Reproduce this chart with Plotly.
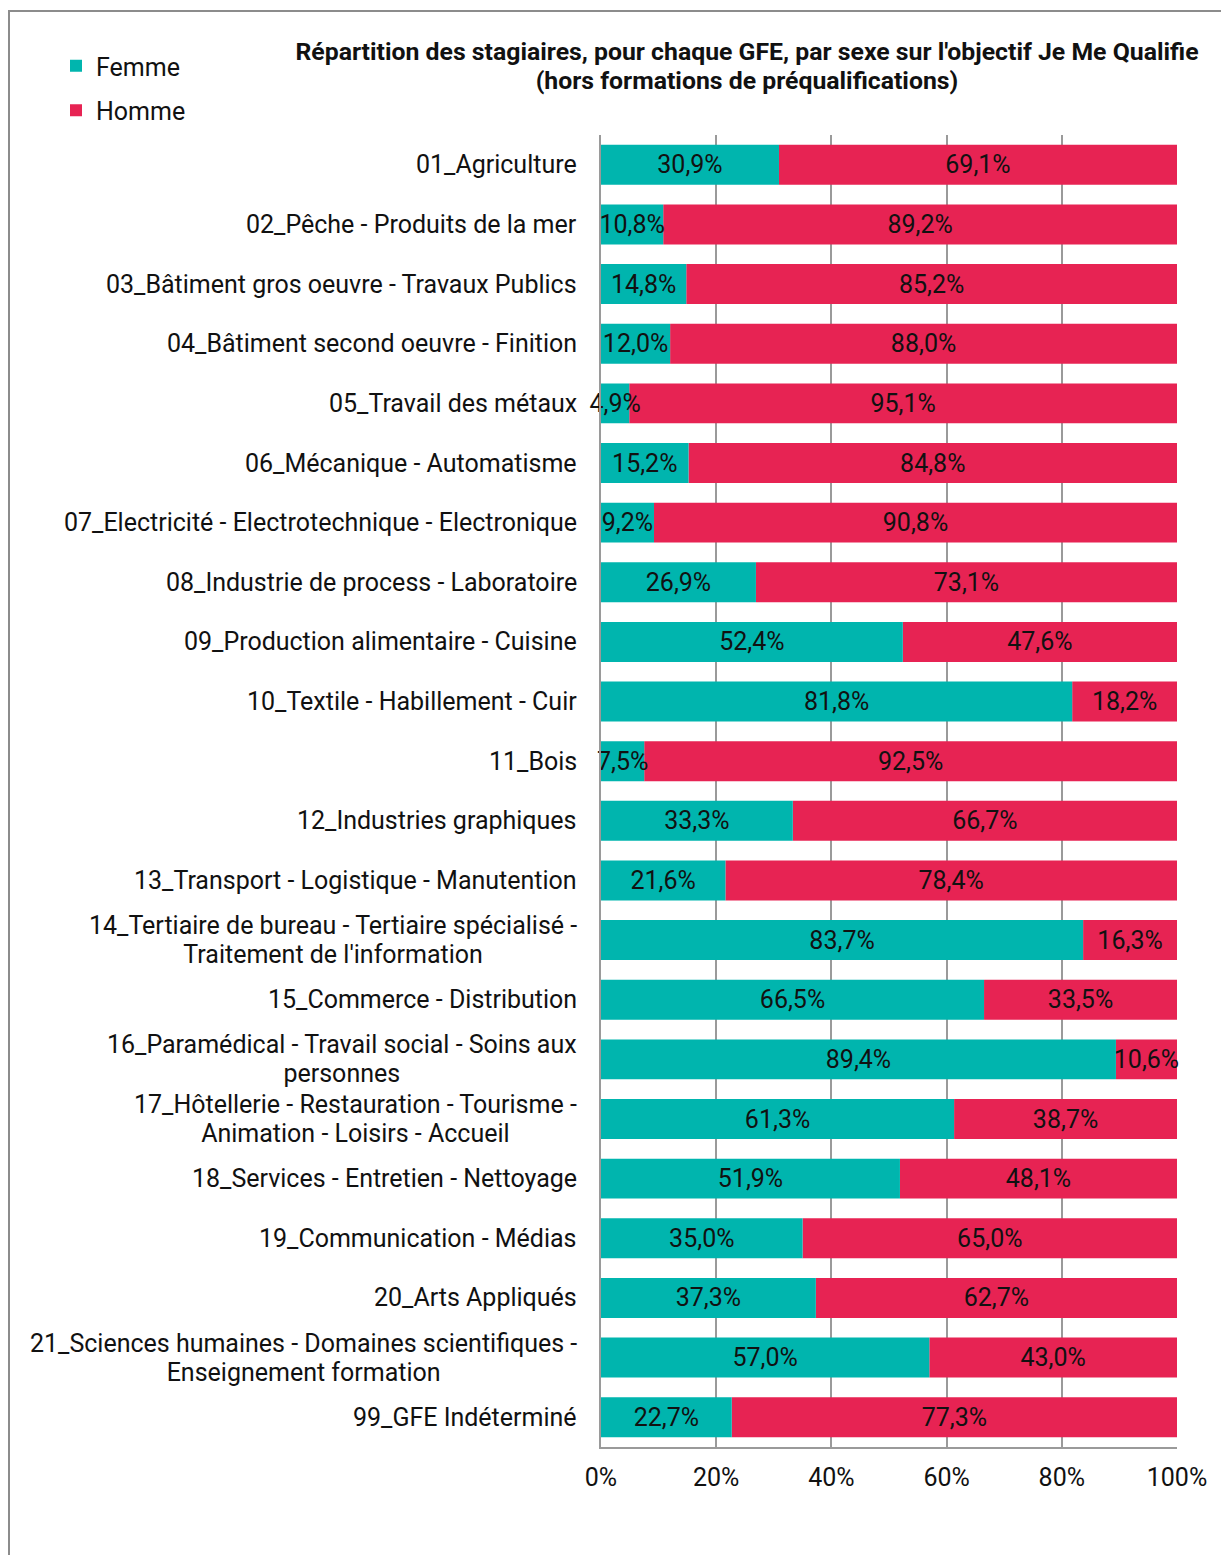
import plotly.graph_objects as go

categories = [
    "01_Agriculture",
    "02_Pêche - Produits de la mer",
    "03_Bâtiment gros oeuvre - Travaux Publics",
    "04_Bâtiment second oeuvre - Finition",
    "05_Travail des métaux",
    "06_Mécanique - Automatisme",
    "07_Electricité - Electrotechnique - Electronique",
    "08_Industrie de process - Laboratoire",
    "09_Production alimentaire - Cuisine",
    "10_Textile - Habillement - Cuir",
    "11_Bois",
    "12_Industries graphiques",
    "13_Transport - Logistique - Manutention",
    "14_Tertiaire de bureau - Tertiaire spécialisé - Traitement de l'information",
    "15_Commerce - Distribution",
    "16_Paramédical - Travail social - Soins aux personnes",
    "17_Hôtellerie - Restauration - Tourisme - Animation - Loisirs - Accueil",
    "18_Services - Entretien - Nettoyage",
    "19_Communication - Médias",
    "20_Arts Appliqués",
    "21_Sciences humaines - Domaines scientifiques - Enseignement formation",
    "99_GFE Indéterminé",
]
category_labels = [
    ["01_Agriculture"],
    ["02_Pêche - Produits de la mer"],
    ["03_Bâtiment gros oeuvre - Travaux Publics"],
    ["04_Bâtiment second oeuvre - Finition"],
    ["05_Travail des métaux"],
    ["06_Mécanique - Automatisme"],
    ["07_Electricité - Electrotechnique - Electronique"],
    ["08_Industrie de process - Laboratoire"],
    ["09_Production alimentaire - Cuisine"],
    ["10_Textile - Habillement - Cuir"],
    ["11_Bois"],
    ["12_Industries graphiques"],
    ["13_Transport - Logistique - Manutention"],
    ["14_Tertiaire de bureau - Tertiaire spécialisé -", "Traitement de l'information"],
    ["15_Commerce - Distribution"],
    ["16_Paramédical - Travail social - Soins aux", "personnes"],
    ["17_Hôtellerie - Restauration - Tourisme -", "Animation - Loisirs - Accueil"],
    ["18_Services - Entretien - Nettoyage"],
    ["19_Communication - Médias"],
    ["20_Arts Appliqués"],
    ["21_Sciences humaines - Domaines scientifiques -", "Enseignement formation"],
    ["99_GFE Indéterminé"],
]
title_lines = [
    "Répartition des stagiaires, pour chaque GFE, par sexe sur l'objectif Je Me Qualifie",
    "(hors formations de préqualifications)",
]
femme = [30.9, 10.8, 14.8, 12.0, 4.9, 15.2, 9.2, 26.9, 52.4, 81.8, 7.5,
         33.3, 21.6, 83.7, 66.5, 89.4, 61.3, 51.9, 35.0, 37.3, 57.0, 22.7]
homme = [69.1, 89.2, 85.2, 88.0, 95.1, 84.8, 90.8, 73.1, 47.6, 18.2, 92.5,
         66.7, 78.4, 16.3, 33.5, 10.6, 38.7, 48.1, 65.0, 62.7, 43.0, 77.3]
x_ticks = [0, 20, 40, 60, 80, 100]
x_tick_labels = ["0%", "20%", "40%", "60%", "80%", "100%"]

TEAL = "#00B5AE"
RED = "#E72353"
FONT = "Roboto"
FS = 25
LINE_FS = 29 / 1.3  # container font size giving ~29px line spacing


def multiline(lines, size, bold=False):
    parts = []
    for ln in lines:
        s = f'<span style="font-size:{size}px">{ln}</span>'
        if bold:
            s = f"<b>{s}</b>"
        parts.append(s)
    return "<br>".join(parts)


W, H = 1221, 1555
ML, MR, MT, MB = 601, 44, 135, 108

fig = go.Figure()
# Homme drawn first (stacked after Femme via base) so Femme labels sit on top
fig.add_trace(go.Bar(
    y=categories, x=homme, base=femme, name="Homme", orientation="h",
    marker=dict(color=RED, line=dict(width=0)),
    texttemplate="%{x:.1f}%", textposition="inside", textangle=0,
    insidetextanchor="middle", constraintext="none",
    insidetextfont=dict(family=FONT, size=FS, color="#111111"),
    legendgroup="h", legendrank=2, cliponaxis=False,
))
fig.add_trace(go.Bar(
    y=categories, x=femme, name="Femme", orientation="h",
    marker=dict(color=TEAL, line=dict(width=0)),
    texttemplate="%{x:.1f}%", textposition="inside", textangle=0,
    insidetextanchor="middle", constraintext="none",
    insidetextfont=dict(family=FONT, size=FS, color="#111111"),
    legendgroup="f", legendrank=1, cliponaxis=False,
))

for cat, lab in zip(categories, category_labels):
    fig.add_annotation(
        x=0, xref="paper", y=cat, yref="y", text=multiline(lab, FS),
        showarrow=False, xanchor="right", xshift=-22, align="center",
        font=dict(family=FONT, size=LINE_FS, color="#111111"),
    )

pw = W - ML - MR
ph = H - MT - MB
fig.add_shape(
    type="rect", xref="paper", yref="paper",
    x0=(9 - ML) / pw, x1=(W + 20 - ML) / pw,
    y0=-(H + 20 - (H - MB)) / ph, y1=1 + (MT - 11) / ph,
    line=dict(color="#8C8C8C", width=2), fillcolor="rgba(0,0,0,0)", layer="below",
)

fig.update_layout(
    width=W, height=H,
    margin=dict(l=ML, r=MR, t=MT, b=MB),
    paper_bgcolor="white", plot_bgcolor="white",
    barmode="overlay", bargap=0.33,
    separators=", ",
    uniformtext=dict(minsize=FS, mode="show"),
    font=dict(family=FONT, size=FS, color="#111111"),
    title=dict(
        text=multiline(title_lines, 24.8, bold=True),
        x=747 / W, xanchor="center", xref="container",
        y=1 - 60 / H, yanchor="top", yref="container",
        font=dict(family=FONT, size=LINE_FS, color="#111111"),
    ),
    legend=dict(
        x=56 / W, xref="container", xanchor="left",
        y=1 - 43 / H, yref="container", yanchor="top",
        traceorder="grouped", tracegroupgap=9,
        font=dict(family=FONT, size=FS, color="#111111"),
        bgcolor="rgba(0,0,0,0)",
    ),
    xaxis=dict(
        range=[0, 100], tickvals=x_ticks, ticktext=x_tick_labels,
        showgrid=True, gridcolor="#9A9A9A", gridwidth=1.5,
        showline=True, linecolor="#9A9A9A", linewidth=1.5,
        zeroline=False, ticks="outside", ticklen=7, tickcolor="rgba(0,0,0,0)",
        tickfont=dict(family=FONT, size=FS, color="#111111"),
        fixedrange=True,
    ),
    yaxis=dict(
        autorange="reversed", showticklabels=False, ticks="",
        showline=True, linecolor="#9A9A9A", linewidth=1.5,
        showgrid=False, fixedrange=True,
    ),
)

fig.write_html(
    "out.html",
    config={"displayModeBar": False},
    post_script="document.body.style.margin='0';document.body.style.overflow='hidden';",
)
